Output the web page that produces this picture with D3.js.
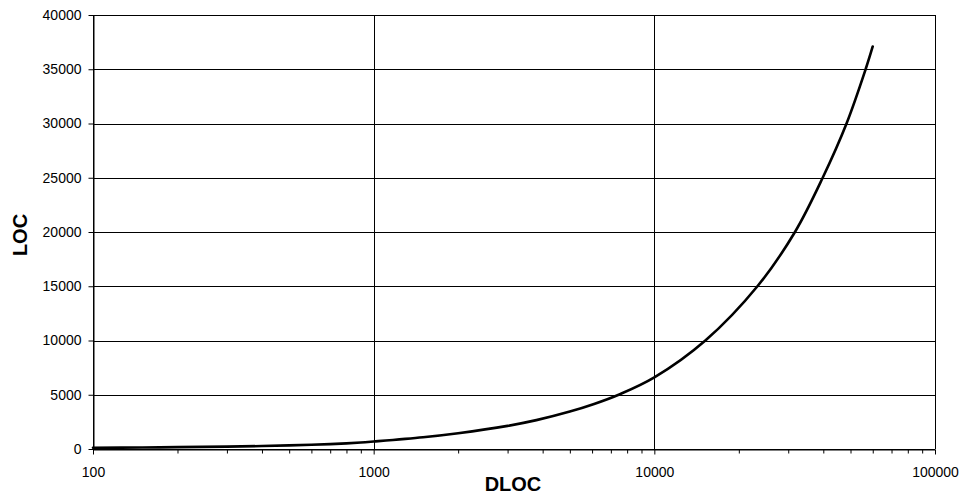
<!DOCTYPE html>
<html>
<head>
<meta charset="utf-8">
<script src="https://cdn.jsdelivr.net/npm/d3@7"></script>
<style>
  body { margin: 0; background: #fff; }
  text { font-family: "Liberation Sans", Arial, sans-serif; }
</style>
</head>
<body>
<div id="chart"></div>
<script>
(function () {

  // DLOC (x, log) vs LOC (y)
  const dloc = [100, 150, 200, 300, 400, 500, 600, 700, 800, 900, 1000, 1500, 2000, 3000,
                3800, 5000, 6100, 7500, 10000, 15200, 23300, 31700, 39800, 48400, 56600, 60000];
  const loc  = [110, 140, 170, 220, 270, 330, 390, 450, 520, 600, 690, 1080, 1450, 2130,
                2660, 3450, 4150, 5025, 6600, 10000, 15000, 20000, 25000, 30000, 35000, 37100];

  const xTicks = [100, 1000, 10000, 100000];
  const yTicks = [0, 5000, 10000, 15000, 20000, 25000, 30000, 35000, 40000];

  const data = dloc.map((d, i) => ({ x: d, y: loc[i] }));

  const W = 964, H = 495;
  const margin = { top: 15, right: 29, bottom: 46, left: 93 },
        width = W - margin.left - margin.right,
        height = H - margin.top - margin.bottom;

  const svg = d3.select("#chart")
    .append("svg")
    .attr("width", W)
    .attr("height", H);

  const g = svg.append("g")
    .attr("transform", `translate(${margin.left},${margin.top})`);

  const x = d3.scaleLog()
    .domain([100, 100000])
    .range([0, width]);

  const y = d3.scaleLinear()
    .domain([0, 40000])
    .range([height, 0]);

  // minor ticks 2..9 in each decade
  const minors = [];
  for (let p = 100; p < 100000; p *= 10) {
    for (let k = 2; k <= 9; k++) minors.push(p * k);
  }

  // Gridlines
  g.append("g")
    .selectAll("line")
    .data(yTicks)
    .enter()
    .append("line")
    .attr("x1", 0)
    .attr("x2", width)
    .attr("y1", d => Math.round(y(d)) + 0.5)
    .attr("y2", d => Math.round(y(d)) + 0.5)
    .attr("stroke", "#000")
    .attr("stroke-width", 1);

  g.append("g")
    .selectAll("line")
    .data(xTicks)
    .enter()
    .append("line")
    .attr("x1", d => Math.round(x(d)) + 0.5)
    .attr("x2", d => Math.round(x(d)) + 0.5)
    .attr("y1", 0)
    .attr("y2", height)
    .attr("stroke", "#000")
    .attr("stroke-width", 1);

  // Axes
  const xAxis = g.append("g")
    .attr("transform", `translate(0,${Math.round(height) + 0.5})`)
    .call(d3.axisBottom(x)
      .tickValues(xTicks)
      .tickFormat(d3.format("d"))
      .tickSize(5)
      .tickSizeOuter(0)
      .tickPadding(13));

  g.append("g")
    .attr("transform", `translate(0,${Math.round(height) + 0.5})`)
    .call(d3.axisBottom(x)
      .tickValues(minors)
      .tickFormat("")
      .tickSize(4)
      .tickSizeOuter(0))
    .call(a => a.select(".domain").remove());

  const yAxis = g.append("g")
    .attr("transform", "translate(0.5,0)")
    .call(d3.axisLeft(y)
      .tickValues(yTicks)
      .tickFormat(d3.format("d"))
      .tickSize(5)
      .tickSizeOuter(0)
      .tickPadding(7));

  [xAxis, yAxis].forEach(a => {
    a.selectAll("text")
      .style("font-size", "14px")
      .attr("fill", "#000");
    a.selectAll("line, path").attr("stroke", "#000");
  });
  g.selectAll(".tick line").attr("stroke", "#000");

  // Curve
  const line = d3.line()
    .x(d => x(d.x))
    .y(d => y(d.y))
    .curve(d3.curveCatmullRom.alpha(0.5));

  g.append("path")
    .datum(data)
    .attr("fill", "none")
    .attr("stroke", "#000")
    .attr("stroke-width", 2.6)
    .attr("stroke-linecap", "round")
    .attr("d", line);

  // Axis labels
  svg.append("text")
    .attr("x", 513)
    .attr("y", 491)
    .attr("text-anchor", "middle")
    .style("font-size", "20px")
    .style("font-weight", "bold")
    .text("DLOC");

  svg.append("text")
    .attr("transform", "translate(26.5,235) rotate(-90)")
    .attr("text-anchor", "middle")
    .style("font-size", "20px")
    .style("font-weight", "bold")
    .text("LOC");

})();
</script>
</body>
</html>
